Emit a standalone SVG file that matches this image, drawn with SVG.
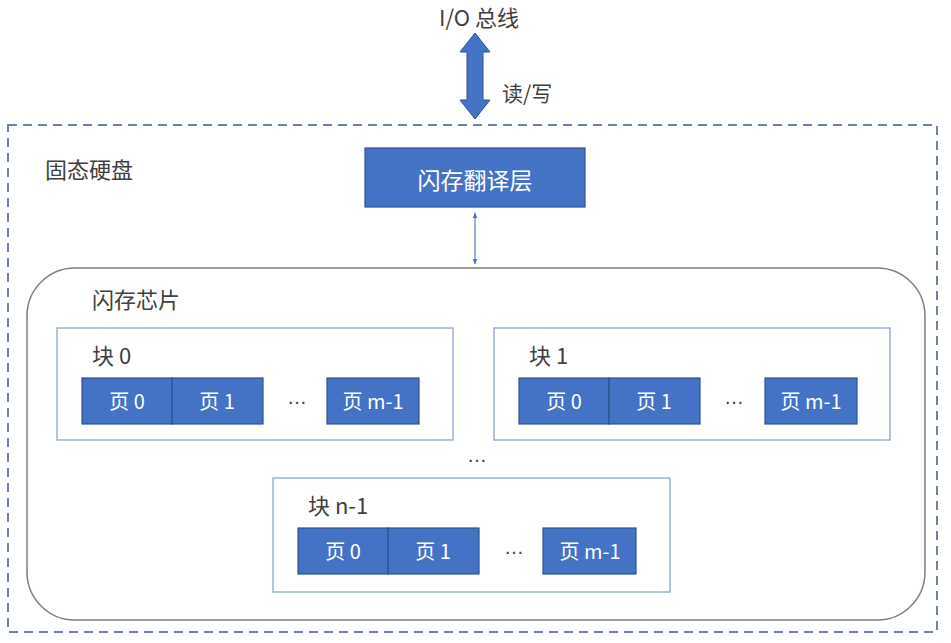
<svg xmlns="http://www.w3.org/2000/svg" width="951" height="643" viewBox="0 0 951 643">
<defs>
<style>
text{font-family:"Noto Sans CJK SC","Liberation Sans",sans-serif;}
.lbl{font-size:22px;fill:#404040;}
.pg{fill:#4472C4;stroke:#2F528F;stroke-width:1.2;}
.pt{font-size:20px;fill:#ffffff;text-anchor:middle;}
.blk{fill:#ffffff;stroke:#8EA5CF;stroke-width:1.3;}
.dots{font-family:"Liberation Sans",sans-serif;font-size:20px;fill:#404040;text-anchor:middle;}
</style>
<marker id="ah" viewBox="0 0 10 10" refX="9" refY="5" markerWidth="5" markerHeight="5" orient="auto-start-reverse">
<path d="M0,1 L10,5 L0,9 z" fill="#4472C4"/>
</marker>
</defs>
<rect width="951" height="643" fill="#ffffff"/>
<g id="ssd">
<rect x="8" y="125" width="929" height="507" fill="none" stroke="#6B80AD" stroke-width="2" stroke-dasharray="9,6"/>
<text class="lbl" x="45" y="178">固态硬盘</text>
</g>
<g id="io-bus">
<text class="lbl" x="439" y="26">I/O 总线</text>
</g>
<g id="connectors">
<path d="M475,33 L490,52 L483,52 L483,100 L490,100 L475,119 L460,100 L467,100 L467,52 L460,52 Z" fill="#4472C4" stroke="#2F528F" stroke-width="1"/>
<text class="lbl" x="502" y="101" style="font-size:21px">读/写</text>
<line x1="475" y1="213" x2="475" y2="264" stroke="#5B7BC0" stroke-width="1.2" marker-start="url(#ah)" marker-end="url(#ah)"/>
</g>
<g id="ftl">
<rect x="365" y="148" width="220" height="59" fill="#4472C4" stroke="#2F528F" stroke-width="1.2"/>
<text x="475" y="189" font-size="23" fill="#ffffff" text-anchor="middle">闪存翻译层</text>
</g>
<g id="chip">
<rect x="27" y="268" width="898" height="352" rx="48" ry="48" fill="#ffffff" stroke="#7F7F7F" stroke-width="1.5"/>
<text class="lbl" x="92" y="308">闪存芯片</text>
</g>
<g id="block0">
<rect class="blk" x="57" y="328" width="396" height="112"/>
<text class="lbl" x="92" y="364">块 0</text>
<rect class="pg" x="82" y="378" width="90" height="46"/>
<text class="pt" x="127" y="409">页 0</text>
<rect class="pg" x="172" y="378" width="91" height="46"/>
<text class="pt" x="217" y="409">页 1</text>
<text class="dots" x="297" y="404">…</text>
<rect class="pg" x="327" y="378" width="92" height="46"/>
<text class="pt" x="373" y="409">页 m-1</text>
</g>
<g id="block1">
<rect class="blk" x="494" y="328" width="396" height="112"/>
<text class="lbl" x="529" y="364">块 1</text>
<rect class="pg" x="519" y="378" width="90" height="46"/>
<text class="pt" x="564" y="409">页 0</text>
<rect class="pg" x="609" y="378" width="91" height="46"/>
<text class="pt" x="654" y="409">页 1</text>
<text class="dots" x="734" y="404">…</text>
<rect class="pg" x="765" y="378" width="92" height="46"/>
<text class="pt" x="811" y="409">页 m-1</text>
</g>
<text class="dots" x="477" y="462">…</text>
<g id="blockn1">
<rect class="blk" x="273" y="478" width="397" height="114"/>
<text class="lbl" x="308" y="514">块 n-1</text>
<rect class="pg" x="298" y="528" width="90" height="46"/>
<text class="pt" x="343" y="559">页 0</text>
<rect class="pg" x="388" y="528" width="91" height="46"/>
<text class="pt" x="433" y="559">页 1</text>
<text class="dots" x="514" y="554">…</text>
<rect class="pg" x="543" y="528" width="93" height="46"/>
<text class="pt" x="590" y="559">页 m-1</text>
</g>
</svg>
